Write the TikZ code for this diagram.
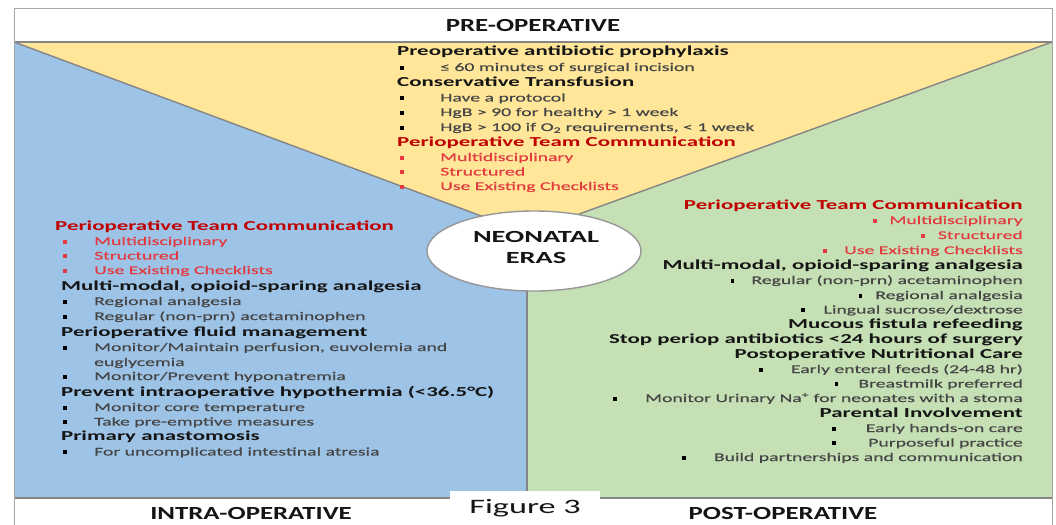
\documentclass[tikz,border=0pt]{standalone}
\usepackage{fontspec}
\setmainfont{Carlito}[FakeStretch=1.67]
\newfontfamily\itemfont{Carlito}[FakeStretch=1.67, FakeBold=0.4]
\newfontfamily\labelfont{Carlito}[FakeStretch=1.45]
\usetikzlibrary{shapes.geometric}

\definecolor{paneblue}{HTML}{9DC3E6}
\definecolor{paneyellow}{HTML}{FFE699}
\definecolor{panegreen}{HTML}{C5E0B4}
\definecolor{edgegray}{HTML}{858585}
\definecolor{framegray}{HTML}{A6A6A6}
\definecolor{ink}{HTML}{151515}
\definecolor{itemgray}{HTML}{454545}
\definecolor{hdred}{HTML}{C00000}
\definecolor{itred}{HTML}{E23A3F}

% square bullet in a given colour
\newcommand\sqbul[1]{{\color{#1}\raisebox{1.3pt}{\rule{3.8pt}{3.8pt}}}}
% left-aligned bullet with fixed indent
\newcommand\lbul[2]{\makebox[#2][l]{\sqbul{#1}}}

\tikzset{
  txt/.style={inner sep=0pt, text height=8pt, text depth=2pt},
  hd/.style={txt, font=\fontsize{13.7}{14}\selectfont\bfseries, text=ink},
  hdr/.style={hd, text=hdred},
  it/.style={txt, font=\itemfont\fontsize{11.8}{14}\selectfont, text=itemgray},
  itr/.style={it, text=itred},
  L/.style={anchor=west},
  R/.style={anchor=east},
  phase/.style={inner sep=0pt, font=\labelfont\fontsize{18.5}{20}\selectfont\bfseries, text=ink},
  divider/.style={draw=edgegray, line width=1.4pt},
  frame/.style={draw=framegray, line width=1pt},
}

\begin{document}
\begin{tikzpicture}[x=1pt,y=-1pt]
\useasboundingbox (0,0) rectangle (1056,524);
\fill[white] (0,0) rectangle (1056,524);

% corner points of the three panels
\coordinate (TL) at (14,42);
\coordinate (TR) at (1052,42);
\coordinate (AP) at (527,233);
\coordinate (BL) at (14,498);
\coordinate (BR) at (1052,498);
\coordinate (BM) at (527,498);

\fill[paneblue] (TL) -- (AP) -- (BM) -- (BL) -- cycle;
\fill[panegreen] (TR) -- (AP) -- (BM) -- (BR) -- cycle;
\fill[paneyellow] (TL) -- (TR) -- (AP) -- cycle;

\draw[divider] (TL) -- (AP) -- (TR);
\draw[divider] (AP) -- (BM);
\draw[divider] (TL) -- (TR);
\draw[divider] (BL) -- (BR);
\draw[frame] (14,530) -- (14,9) -- (1052,9) -- (1052,530);

% centre badge
\node[ellipse, draw=edgegray!85, line width=1.4pt, fill=white, minimum width=214pt,
      minimum height=80pt, inner sep=0pt] (hub) at (534,251) {};
\node[align=center, inner sep=0pt, font=\fontsize{17}{21}\selectfont\bfseries, text=ink]
      (hubtext) at (536,247) {NEONATAL\\ERAS};

% phase labels
\node[phase] (pre) at (533,25) {PRE-OPERATIVE};
\node[phase] (intra) at (251,513) {INTRA-OPERATIVE};
\node[phase] (post) at (783,513) {POST-OPERATIVE};
\node[fill=white, minimum width=150pt, minimum height=34pt, inner sep=0pt,
      font=\fontsize{20.5}{22}\selectfont, text=ink] (fig) at (525,508) {Figure 3};

% pre-operative list
\node[hd,L]  (t1)  at (397,53)  {Preoperative antibiotic prophylaxis};
\node[it,L]  (t2)  at (400,68)  {\lbul{black}{40pt}≤ 60 minutes of surgical incision};
\node[hd,L]  (t3)  at (397,83.5){Conservative Transfusion};
\node[it,L]  (t4)  at (400,98.5){\lbul{black}{40pt}Have a protocol};
\node[it,L]  (t5)  at (400,113) {\lbul{black}{40pt}HgB > 90 for healthy > 1 week};
\node[it,L]  (t6)  at (400,128) {\lbul{black}{40pt}HgB > 100 if O\textsubscript{2} requirements, < 1 week};
\node[hdr,L] (t7)  at (397,143.5){Perioperative Team Communication};
\node[itr,L] (t8)  at (400,158) {\lbul{itred}{40pt}Multidisciplinary};
\node[itr,L] (t9)  at (400,172.5){\lbul{itred}{40pt}Structured};
\node[itr,L] (t10) at (400,187) {\lbul{itred}{40pt}Use Existing Checklists};

% intra-operative list
\node[hdr,L] (l1)  at (55,227.5){Perioperative Team Communication};
\node[itr,L] (l2)  at (63,242)  {\lbul{itred}{31pt}Multidisciplinary};
\node[itr,L] (l3)  at (63,256.5){\lbul{itred}{31pt}Structured};
\node[itr,L] (l4)  at (63,271)  {\lbul{itred}{31pt}Use Existing Checklists};
\node[hd,L]  (l5)  at (61,287.5){Multi-modal, opioid-sparing analgesia};
\node[it,L]  (l6)  at (63,302)  {\lbul{black}{31pt}Regional analgesia};
\node[it,L]  (l7)  at (63,317)  {\lbul{black}{31pt}Regular (non-prn) acetaminophen};
\node[hd,L]  (l8)  at (61,333)  {Perioperative fluid management};
\node[it,L]  (l9)  at (63,348)  {\lbul{black}{31pt}Monitor/Maintain perfusion, euvolemia and};
\node[it,L]  (l10) at (94,363)  {euglycemia};
\node[it,L]  (l11) at (63,377)  {\lbul{black}{31pt}Monitor/Prevent hyponatremia};
\node[hd,L]  (l12) at (61,393)  {Prevent intraoperative hypothermia (<36.5°C)};
\node[it,L]  (l13) at (63,408)  {\lbul{black}{31pt}Monitor core temperature};
\node[it,L]  (l14) at (63,422.5){\lbul{black}{31pt}Take pre-emptive measures};
\node[hd,L]  (l15) at (61,437.5){Primary anastomosis};
\node[it,L]  (l16) at (63,452.5){\lbul{black}{31pt}For uncomplicated intestinal atresia};

% post-operative list
\node[hdr,R] (r1)  at (1023,206.5){Perioperative Team Communication};
\node[itr,R] (r2)  at (1023,221) {\sqbul{itred}\hspace{13pt}Multidisciplinary};
\node[itr,R] (r3)  at (1023,236) {\sqbul{itred}\hspace{13pt}Structured};
\node[itr,R] (r4)  at (1023,251) {\sqbul{itred}\hspace{17pt}Use Existing Checklists};
\node[hd,R]  (r5)  at (1023,266.5){Multi-modal, opioid-sparing analgesia};
\node[it,R]  (r6)  at (1023,281) {\sqbul{black}\hspace{17pt}Regular (non-prn) acetaminophen};
\node[it,R]  (r7)  at (1023,296) {\sqbul{black}\hspace{13pt}Regional analgesia};
\node[it,R]  (r8)  at (1023,310.5){\sqbul{black}\hspace{19pt}Lingual sucrose/dextrose};
\node[hd,R]  (r9)  at (1023,325.5){Mucous fistula refeeding};
\node[hd,R]  (r10) at (1023,340.5){Stop periop antibiotics <24 hours of surgery};
\node[hd,R]  (r11) at (1023,355.5){Postoperative Nutritional Care};
\node[it,R]  (r12) at (1023,370) {\sqbul{black}\hspace{28pt}Early enteral feeds (24-48 hr)};
\node[it,R]  (r13) at (1023,384.5){\sqbul{black}\hspace{20pt}Breastmilk preferred};
\node[it,R]  (r14) at (1023,399) {\sqbul{black}\hspace{28pt}Monitor Urinary Na\textsuperscript{+} for neonates with a stoma};
\node[hd,R]  (r15) at (1023,414.5){Parental Involvement};
\node[it,R]  (r16) at (1023,429) {\sqbul{black}\hspace{30pt}Early hands-on care};
\node[it,R]  (r17) at (1023,443.5){\sqbul{black}\hspace{32pt}Purposeful practice};
\node[it,R]  (r18) at (1023,458) {\sqbul{black}\hspace{28pt}Build partnerships and communication};
\end{tikzpicture}
\end{document}
